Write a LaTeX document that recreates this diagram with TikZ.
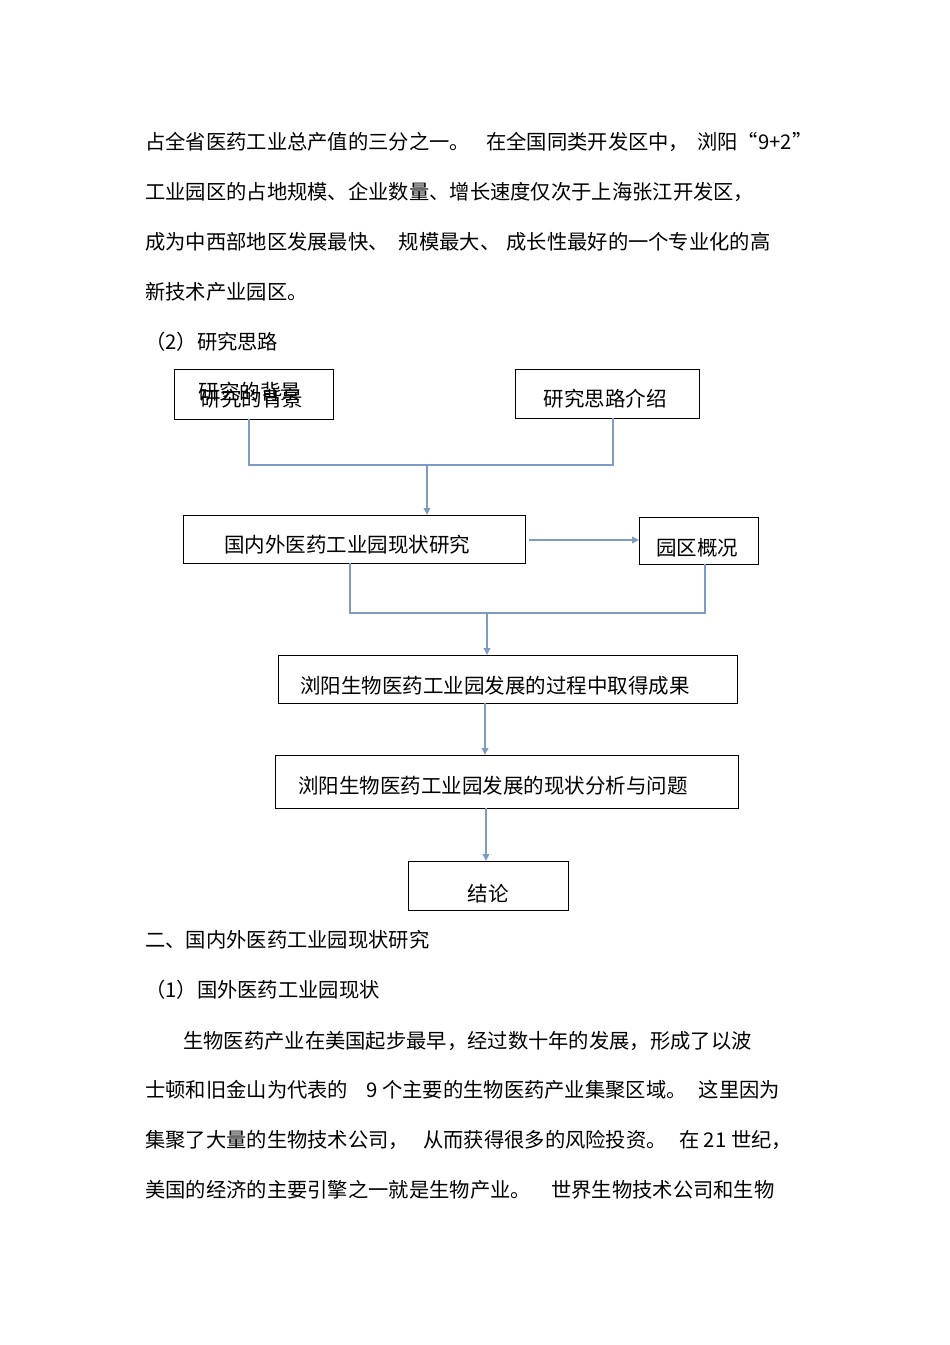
\documentclass[tikz,border=0pt]{standalone}
\usepackage{fontspec}
\setmainfont{Noto Sans CJK SC}
\usetikzlibrary{arrows.meta}
\definecolor{ln}{RGB}{125,155,195}
\begin{document}
\begin{tikzpicture}[x=1pt,y=-1pt,
  box/.style={draw=black,line width=0.8pt},
  lbl/.style={font=\fontsize{20.5}{20}\selectfont,inner sep=0pt},
  body/.style={font=\fontsize{20.3}{20}\selectfont,anchor=west,inner sep=0pt},
  conn/.style={draw=ln,line width=2pt},
  arr/.style={conn,-{Triangle[length=7pt,width=6.5pt]}}]
\fill[white] (0,0) rectangle (950,1345);
\useasboundingbox (0,0) rectangle (950,1345);
\node[body] (t1) at (145,142) {占全省医药工业总产值的三分之一。\hspace{0.8em}在全国同类开发区中，\hspace{0.4em}浏阳“9+2”};
\node[body] (t2) at (145,192) {工业园区的占地规模、企业数量、增长速度仅次于上海张江开发区，};
\node[body] (t3) at (145,242) {成为中西部地区发展最快、\hspace{0.5em}规模最大、\hspace{0.3em}成长性最好的一个专业化的高};
\node[body] (t4) at (145,292) {新技术产业园区。};
\node[body] (t5) at (145,342) {（2）研究思路};
\draw[box] (174,369) rectangle (333,419);
\node[lbl] (a) at (250,392) {研究的背景};
\node[lbl] (a2) at (252,399) {研究的背景};
\coordinate (ab) at (249,419);
\draw[box] (515,369) rectangle (699,418);
\node[lbl] (b) at (605,399) {研究思路介绍};
\coordinate (bb) at (613,418);
\draw[box] (183,515) rectangle (525,563);
\node[lbl] (c) at (347,545) {国内外医药工业园现状研究};
\draw[box] (639,517) rectangle (758,564);
\node[lbl] (d) at (697,548) {园区概况};
\draw[box] (278,655) rectangle (737,703);
\node[lbl] (e) at (495,686) {浏阳生物医药工业园发展的过程中取得成果};
\draw[box] (275,755) rectangle (738,808);
\node[lbl] (f) at (493,786) {浏阳生物医药工业园发展的现状分析与问题};
\draw[box] (408,861) rectangle (568,910);
\node[lbl] (g) at (488,894) {结论};
\coordinate (j1) at (427,465);
\draw[conn] (ab) -- (249,465) -- (613,465) -- (bb);
\draw[arr] (j1) -- (427,515);
\draw[arr] (529,540) -- (639,540);
\draw[conn] (350,563) -- (350,613) -- (705,613) -- (705,564);
\draw[arr] (487,613) -- (487,655);
\draw[arr] (485,703) -- (485,755);
\draw[arr] (486,808) -- (486,861);
\node[body] (t6) at (145,940) {二、国内外医药工业园现状研究};
\node[body] (t7) at (145,990) {（1）国外医药工业园现状};
\node[body] (t8) at (183,1041) {生物医药产业在美国起步最早，经过数十年的发展，形成了以波};
\node[body] (t9) at (145,1090) {士顿和旧金山为代表的\hspace{0.9em}9 个主要的生物医药产业集聚区域。\hspace{0.6em}这里因为};
\node[body] (t10) at (145,1140) {集聚了大量的生物技术公司，\hspace{0.7em}从而获得很多的风险投资。\hspace{0.6em}在 21 世纪，};
\node[body] (t11) at (145,1190) {美国的经济的主要引擎之一就是生物产业。\hspace{1em}世界生物技术公司和生物};
\end{tikzpicture}
\end{document}
